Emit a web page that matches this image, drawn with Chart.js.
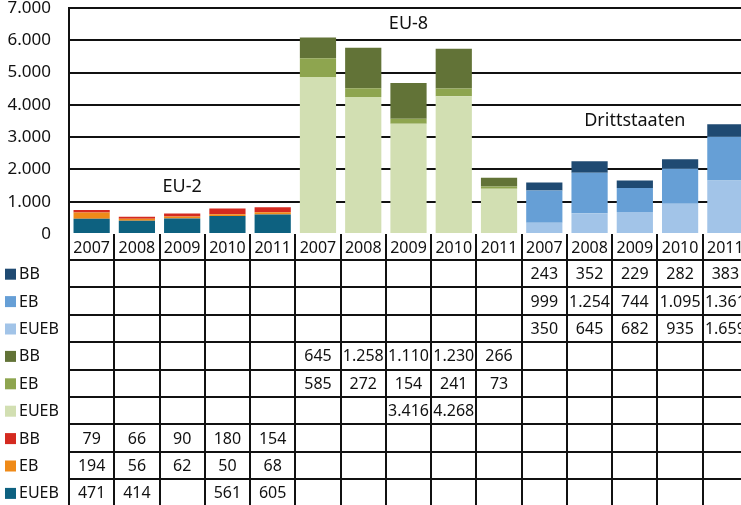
<!DOCTYPE html>
<html>
<head>
<meta charset="utf-8">
<script src="https://cdn.jsdelivr.net/npm/chart.js@4.4.1/dist/chart.umd.min.js"></script>
<style>
  html, body { margin: 0; padding: 0; background: #fff; overflow: hidden; }
  #wrap { position: relative; width: 748px; height: 505px; }
</style>
</head>
<body>
<div id="wrap"><canvas id="chart"></canvas></div>
<script>
// Years repeated per group, groups left to right
var years = ['2007', '2008', '2009', '2010', '2011'];
var groups = ['EU-2', 'EU-8', 'Drittstaaten'];

// EU-2 (2009 EUEB not printed in the table)
var eu2EUEB = [471, 414, 480, 561, 605];
var eu2EB = [194, 56, 62, 50, 68];
var eu2BB = [79, 66, 90, 180, 154];
// EU-8 (2007, 2008, 2011 EUEB not printed)
var eu8EUEB = [4860, 4240, 3416, 4268, 1400];
var eu8EB = [585, 272, 154, 241, 73];
var eu8BB = [645, 1258, 1110, 1230, 266];
// Drittstaaten
var dsEUEB = [350, 645, 682, 935, 1659];
var dsEB = [999, 1254, 744, 1095, 1361];
var dsBB = [243, 352, 229, 282, 383];

// cells left blank in the data table
var eu2EUEBBlank = [2];
var eu8EUEBBlank = [0, 1, 4];

var yTicks = [0, 1000, 2000, 3000, 4000, 5000, 6000, 7000];

var FONT = '"Noto Sans", sans-serif';
var INK = '#111';

function fmt(v) {
  var s = String(Math.round(v));
  return s.replace(/\B(?=(\d{3})+(?!\d))/g, '.');
}

var labels = [];
groups.forEach(function() { years.forEach(function(y) { labels.push(y); }); });

// put a group's 5 values into its slot of the 15 categories
function place(groupIdx, vals) {
  var out = [];
  for (var i = 0; i < 15; i++) out.push(null);
  vals.forEach(function(v, i) { out[groupIdx * 5 + i] = v; });
  return out;
}

// table rows top to bottom
var rows = [
  { label: 'BB', color: '#1f4a72', group: 2, vals: dsBB, blank: [] },
  { label: 'EB', color: '#669fd6', group: 2, vals: dsEB, blank: [] },
  { label: 'EUEB', color: '#a2c4e8', group: 2, vals: dsEUEB, blank: [] },
  { label: 'BB', color: '#627337', group: 1, vals: eu8BB, blank: [] },
  { label: 'EB', color: '#8ea54f', group: 1, vals: eu8EB, blank: [] },
  { label: 'EUEB', color: '#d2dfb2', group: 1, vals: eu8EUEB, blank: eu8EUEBBlank },
  { label: 'BB', color: '#d42a20', group: 0, vals: eu2BB, blank: [] },
  { label: 'EB', color: '#ef8a18', group: 0, vals: eu2EB, blank: [] },
  { label: 'EUEB', color: '#0d6180', group: 0, vals: eu2EUEB, blank: eu2EUEBBlank }
];

// stack order bottom to top: EUEB, EB, BB
var datasets = [];
[2, 1, 0].forEach(function(g) {
  [2, 1, 0].forEach(function(k) {
    var r = rows[(2 - g) * 3 + k];
    datasets.push({
      label: groups[g] + ' ' + r.label,
      data: place(g, r.vals),
      backgroundColor: r.color,
      borderWidth: 0,
      barPercentage: 0.8,
      categoryPercentage: 1.0
    });
  });
});

var groupLabels = [
  { text: 'EU-2', idx: 2, value: 1450 },
  { text: 'EU-8', idx: 7, value: 6500 },
  { text: 'Drittstaaten', idx: 12, value: 3500 }
];

var tablePlugin = {
  id: 'dataTable',
  afterDraw: function(chart) {
    var ctx = chart.ctx;
    var xs = chart.scales.x, ys = chart.scales.y;
    var ca = chart.chartArea;
    var colW = (ca.right - ca.left) / labels.length;
    var headerH = 26, rowH = 27.4;
    var bottom = chart.height;

    ctx.save();
    // group captions
    ctx.font = '18px ' + FONT;
    ctx.fillStyle = INK;
    ctx.textAlign = 'center';
    ctx.textBaseline = 'middle';
    groupLabels.forEach(function(g) {
      ctx.fillText(g.text, xs.getPixelForValue(g.idx), ys.getPixelForValue(g.value));
    });

    // grid of the table
    ctx.strokeStyle = INK;
    ctx.lineWidth = 2;
    for (var i = 0; i <= labels.length; i++) {
      var x = Math.round(ca.left + i * colW);
      ctx.beginPath();
      ctx.moveTo(x, ca.bottom);
      ctx.lineTo(x, bottom);
      ctx.stroke();
    }
    for (var r = 0; r <= rows.length; r++) {
      var y = Math.round(ca.bottom + headerH + r * rowH);
      ctx.beginPath();
      ctx.moveTo(ca.left, y);
      ctx.lineTo(ca.right, y);
      ctx.stroke();
    }

    // year header
    ctx.font = '16px ' + FONT;
    ctx.fillStyle = INK;
    labels.forEach(function(l, i) {
      ctx.fillText(l, xs.getPixelForValue(i), ca.bottom + headerH / 2 + 1);
    });

    // rows: legend key + values
    rows.forEach(function(row, r) {
      var cy = ca.bottom + headerH + r * rowH + rowH / 2 + 1;
      ctx.fillStyle = row.color;
      ctx.fillRect(5, cy - 6, 11, 11);
      ctx.fillStyle = INK;
      ctx.textAlign = 'left';
      ctx.fillText(row.label, 19, cy);
      ctx.textAlign = 'center';
      row.vals.forEach(function(v, i) {
        if (row.blank.indexOf(i) !== -1) return;
        ctx.fillText(fmt(v), xs.getPixelForValue(row.group * 5 + i), cy);
      });
    });
    ctx.restore();
  }
};

new Chart(document.getElementById('chart').getContext('2d'), {
  type: 'bar',
  plugins: [tablePlugin],
  data: { labels: labels, datasets: datasets },
  options: {
    responsive: true,
    maintainAspectRatio: false,
    animation: false,
    layout: { padding: { top: 8, bottom: 271, right: 0, left: 0 } },
    scales: {
      x: {
        stacked: true,
        display: false,
        grid: { display: false }
      },
      y: {
        stacked: true,
        min: 0,
        max: 7000,
        afterFit: function(scale) {
          scale.width = 69;
          scale.paddingTop = 0;
          scale.paddingBottom = 0;
        },
        afterBuildTicks: function(scale) {
          scale.ticks = yTicks.map(function(v) { return { value: v }; });
        },
        ticks: {
          color: INK,
          font: { family: FONT, size: 17 },
          padding: 18,
          callback: function(v) { return fmt(v); }
        },
        grid: {
          color: function(c) { return c.tick && c.tick.value === 0 ? 'rgba(0,0,0,0)' : INK; },
          lineWidth: 2,
          drawTicks: false
        },
        border: { display: true, color: INK, width: 2 }
      }
    },
    plugins: {
      legend: { display: false },
      tooltip: { enabled: false }
    }
  }
});
</script>
</body>
</html>
